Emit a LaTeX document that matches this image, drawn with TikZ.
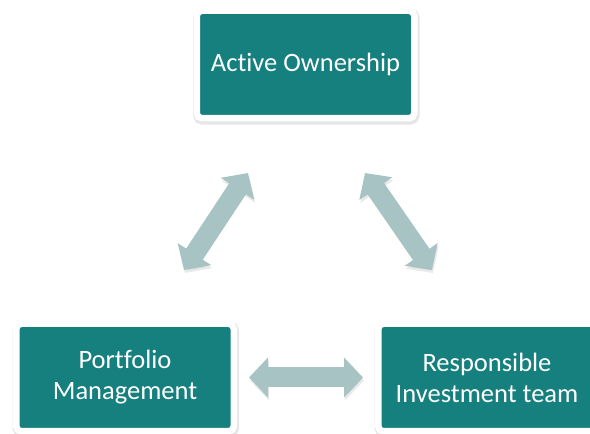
\documentclass[tikz,border=0pt]{standalone}
\usepackage{fontspec}
\setmainfont[Ligatures={NoCommon,NoRequired,NoContextual}]{Carlito}
\usepackage{tikz}
\usetikzlibrary{shapes,arrows,positioning,calc,shadows,arrows.meta}

\definecolor{teal}{RGB}{22,128,127}
\definecolor{linkgrey}{RGB}{168,195,195}

\tikzset{
  box/.style={rectangle, rounded corners=5pt, fill=teal, draw=white,
    line width=6.5pt, outer sep=0pt, minimum width=217.5pt, minimum height=107.5pt,
    text=white, align=center, font=\fontsize{26.5}{31}\selectfont,
    drop shadow={shadow xshift=0.8pt, shadow yshift=-2pt, opacity=.16,
      fill=black!60, draw=black!60, line width=9pt}},
  link/.style={line width=20pt, draw=linkgrey,
    {Triangle[width=39pt,length=19pt]}-{Triangle[width=39pt,length=19pt]},
    preaction={draw=black!70, opacity=.12,
      transform canvas={shift={(1pt,-3pt)}}}}
}

\begin{document}
\begin{tikzpicture}[x=1pt, y=1pt]
    \useasboundingbox (0,0) rectangle (590,434);

    \node [box] (ao) at (305.5,369.5) {Active Ownership};
    \node [box] (pm) at (125,56.5) {Portfolio\\Management};
    \node [box, right=144.5pt of pm] (rit) {Responsible\\Investment team};

    % two-way links
    \draw [link] ($(ao.south)+(-57.5,-54.75)$) -- ($(pm.north)+(59,53.75)$);
    \draw [link] ($(ao.south)+(59.5,-54.75)$) -- ($(rit.north)+(-55,53.75)$);
    \draw [link, shorten <=15.25pt, shorten >=15.25pt] (pm.east) -- (rit.west);

\end{tikzpicture}
\end{document}
